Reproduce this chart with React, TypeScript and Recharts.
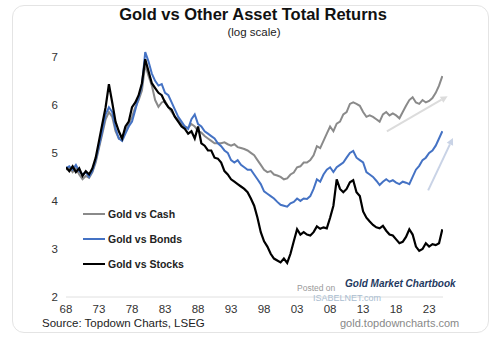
import React from 'react';
import { LineChart, Line, XAxis, YAxis, Legend, ReferenceLine } from 'recharts';

// half-yearly readings (log scale values as shown on the axis)
const years = [
  1968, 1968.5, 1969, 1969.5, 1970, 1970.5, 1971, 1971.5, 1972, 1972.5,
  1973, 1973.5, 1974, 1974.5, 1975, 1975.5, 1976, 1976.5, 1977, 1977.5,
  1978, 1978.5, 1979, 1979.5, 1980, 1980.5, 1981, 1981.5, 1982, 1982.5,
  1983, 1983.5, 1984, 1984.5, 1985, 1985.5, 1986, 1986.5, 1987, 1987.5,
  1988, 1988.5, 1989, 1989.5, 1990, 1990.5, 1991, 1991.5, 1992, 1992.5,
  1993, 1993.5, 1994, 1994.5, 1995, 1995.5, 1996, 1996.5, 1997, 1997.5,
  1998, 1998.5, 1999, 1999.5, 2000, 2000.5, 2001, 2001.5, 2002, 2002.5,
  2003, 2003.5, 2004, 2004.5, 2005, 2005.5, 2006, 2006.5, 2007, 2007.5,
  2008, 2008.5, 2009, 2009.5, 2010, 2010.5, 2011, 2011.5, 2012, 2012.5,
  2013, 2013.5, 2014, 2014.5, 2015, 2015.5, 2016, 2016.5, 2017, 2017.5,
  2018, 2018.5, 2019, 2019.5, 2020, 2020.5, 2021, 2021.5, 2022, 2022.5,
  2023, 2023.5, 2024, 2024.5, 2025,
];

const goldVsCash = [
  4.65, 4.70, 4.60, 4.68, 4.55, 4.45, 4.52, 4.48, 4.60, 4.80,
  5.10, 5.40, 5.70, 5.85, 5.75, 5.45, 5.30, 5.35, 5.45, 5.60,
  5.75, 5.95, 6.10, 6.30, 6.84, 6.60, 6.40, 6.10, 5.96, 6.05,
  6.08, 5.95, 5.85, 5.75, 5.70, 5.60, 5.55, 5.52, 5.60, 5.55,
  5.45, 5.42, 5.35, 5.30, 5.25, 5.20, 5.20, 5.20, 5.22, 5.18,
  5.15, 5.18, 5.12, 5.10, 5.08, 5.05, 5.00, 4.95, 4.85, 4.75,
  4.65, 4.60, 4.62, 4.55, 4.53, 4.50, 4.45, 4.47, 4.55, 4.59,
  4.70, 4.72, 4.80, 4.80, 4.85, 4.95, 5.14, 5.10, 5.25, 5.40,
  5.55, 5.45, 5.61, 5.65, 5.80, 5.85, 6.02, 6.05, 6.02, 5.98,
  5.85, 5.75, 5.78, 5.75, 5.70, 5.65, 5.80, 5.85, 5.78, 5.82,
  5.78, 5.72, 5.85, 5.98, 6.10, 6.16, 6.05, 6.02, 6.10, 6.05,
  6.08, 6.14, 6.25, 6.40, 6.60,
];

const goldVsBonds = [
  4.68, 4.72, 4.65, 4.75, 4.62, 4.55, 4.60, 4.50, 4.62, 4.85,
  5.15, 5.45, 5.80, 5.95, 5.85, 5.50, 5.30, 5.25, 5.40, 5.55,
  5.65, 5.90, 6.15, 6.40, 7.10, 6.90, 6.65, 6.50, 6.40, 6.43,
  6.25, 6.20, 6.05, 5.90, 5.75, 5.65, 5.55, 5.50, 5.70, 5.80,
  5.60, 5.55, 5.45, 5.40, 5.35, 5.30, 5.20, 5.14, 5.05, 5.00,
  4.85, 4.80, 4.85, 4.75, 4.70, 4.65, 4.65, 4.55, 4.45, 4.35,
  4.20, 4.15, 4.10, 4.05, 3.98, 3.92, 3.90, 3.88, 3.95, 3.98,
  4.05, 4.00, 4.05, 4.04, 4.10, 4.25, 4.45, 4.40, 4.55, 4.65,
  4.70, 4.60, 4.70, 4.75, 4.80, 4.90, 5.00, 5.04, 4.90, 4.85,
  4.80, 4.60, 4.55, 4.50, 4.42, 4.33, 4.40, 4.45, 4.40, 4.43,
  4.38, 4.35, 4.40, 4.38, 4.35, 4.50, 4.65, 4.73, 4.85, 4.90,
  5.00, 5.05, 5.15, 5.30, 5.45,
];

const goldVsStocks = [
  4.70, 4.62, 4.72, 4.60, 4.68, 4.52, 4.62, 4.55, 4.68, 4.90,
  5.25, 5.60, 5.95, 6.43, 6.05, 5.65, 5.45, 5.30, 5.55, 5.65,
  5.95, 6.05, 6.20, 6.45, 6.95, 6.70, 6.45, 6.35, 6.25, 6.20,
  6.05, 5.95, 5.90, 5.75, 5.65, 5.55, 5.50, 5.40, 5.45, 5.30,
  5.55, 5.20, 5.15, 5.05, 5.05, 4.90, 4.88, 4.80, 4.62, 4.55,
  4.45, 4.40, 4.35, 4.30, 4.25, 4.18, 4.05, 3.90, 3.65, 3.35,
  3.16, 3.05, 2.90, 2.80, 2.76, 2.72, 2.80, 2.71, 2.90, 3.16,
  3.41, 3.30, 3.35, 3.30, 3.28, 3.35, 3.47, 3.42, 3.45, 3.43,
  3.65, 3.90, 4.45, 4.25, 4.18, 4.25, 4.39, 4.43, 4.18, 4.10,
  3.78, 3.65, 3.57, 3.50, 3.45, 3.43, 3.48, 3.38, 3.30, 3.28,
  3.20, 3.12, 3.15, 3.25, 3.41, 3.30, 3.05, 2.96, 3.00, 3.12,
  3.05, 3.10, 3.08, 3.12, 3.41,
];

const seriesNames = ['Gold vs Cash', 'Gold vs Bonds', 'Gold vs Stocks'];
const xTicks = [1968, 1973, 1978, 1983, 1988, 1993, 1998, 2003, 2008, 2013, 2018, 2023];
const yTicks = [2, 3, 4, 5, 6, 7];

// trend arrows drawn on the right side (data coords)
const cashArrow = [{ x: 2016.6, y: 5.45 }, { x: 2025.8, y: 6.18 }];
const bondsArrow = [{ x: 2022.85, y: 4.22 }, { x: 2026.6, y: 5.31 }];

const data = years.map((y, i) => ({
  year: y,
  cash: goldVsCash[i],
  bonds: goldVsBonds[i],
  stocks: goldVsStocks[i],
}));

const FONT = '"Liberation Sans", Arial, sans-serif';

const arrowShape = (color: string) => (props: any) => {
  const { x1, y1, x2, y2 } = props;
  const ang = Math.atan2(y2 - y1, x2 - x1);
  const len = 7;
  const w = 3.5;
  const bx = x2 - len * Math.cos(ang);
  const by = y2 - len * Math.sin(ang);
  const px = -Math.sin(ang) * w;
  const py = Math.cos(ang) * w;
  return (
    <g>
      <line x1={x1} y1={y1} x2={bx} y2={by} stroke={color} strokeWidth={2} />
      <polygon points={`${x2},${y2} ${bx + px},${by + py} ${bx - px},${by - py}`} fill={color} />
    </g>
  );
};

function LegendBox({ payload }: any) {
  const items = [...(payload || [])].sort(
    (a: any, b: any) => seriesNames.indexOf(a.value) - seriesNames.indexOf(b.value)
  );
  return (
    <div style={{ fontFamily: FONT }}>
      {items.map((p: any) => (
        <div key={p.value} style={{ display: 'flex', alignItems: 'center', height: 25 }}>
          <div style={{ width: 22, height: 2, background: p.color, marginRight: 3 }} />
          <span style={{ fontSize: 10.5, fontWeight: 'bold', color: '#222' }}>{p.value}</span>
        </div>
      ))}
    </div>
  );
}

export default function App() {
  return (
    <div style={{ position: 'absolute', left: 0, top: 0, width: 500, height: 338, background: '#fff', fontFamily: FONT, overflow: 'hidden' }}>
      <div style={{ position: 'absolute', left: 12, top: 5, width: 475, height: 326, border: '1px solid #e4e4e4', borderRadius: 12 }} />
      <div style={{ position: 'absolute', left: 0, width: 506, top: 5, textAlign: 'center', fontSize: 16.5, fontWeight: 'bold', color: '#111' }}>
        Gold vs Other Asset Total Returns
      </div>
      <div style={{ position: 'absolute', left: 0, width: 508, top: 26, textAlign: 'center', fontSize: 11.5, color: '#222' }}>
        (log scale)
      </div>

      <LineChart width={500} height={338} data={data} margin={{ top: 52, right: 57, bottom: 21, left: 42 }}
        style={{ position: 'absolute', left: 0, top: 0 }}>
        <XAxis dataKey="year" type="number" domain={[1968, 2025.1]} ticks={xTicks} allowDataOverflow
          tickFormatter={(v: number) => String(v).slice(2)} stroke="#e0e0e0" tickLine={false} height={20}
          tick={{ fill: '#333', fontSize: 11.5, fontFamily: FONT }} interval={0} />
        <YAxis type="number" domain={[2, 7]} ticks={yTicks} axisLine={false} tickLine={false} width={24}
          tick={{ fill: '#333', fontSize: 11.5, fontFamily: FONT }} />
        <Legend layout="vertical" verticalAlign="middle" align="center" content={<LegendBox />}
          wrapperStyle={{ left: 83, top: 201, width: 120 }} />
        <ReferenceLine segment={cashArrow} ifOverflow="visible" shape={arrowShape('#dcdcdc')} />
        <ReferenceLine segment={bondsArrow} ifOverflow="visible" shape={arrowShape('#c9d3e6')} />
        <Line name="Gold vs Cash" dataKey="cash" stroke="#8a8a8a" strokeWidth={2} dot={false} isAnimationActive={false} />
        <Line name="Gold vs Bonds" dataKey="bonds" stroke="#4472c4" strokeWidth={2} dot={false} isAnimationActive={false} />
        <Line name="Gold vs Stocks" dataKey="stocks" stroke="#000" strokeWidth={2.2} dot={false} isAnimationActive={false} />
      </LineChart>

      <div style={{ position: 'absolute', left: 345, top: 278, fontSize: 10, fontWeight: 'bold', fontStyle: 'italic', color: '#1f3a5f' }}>
        Gold Market Chartbook
      </div>
      <div style={{ position: 'absolute', left: 297, top: 283, fontSize: 8.5, color: '#999' }}>Posted on</div>
      <div style={{ position: 'absolute', left: 313, top: 293, fontSize: 9, color: '#a9bdd0' }}>ISABELNET.com</div>
      <div style={{ position: 'absolute', left: 42, top: 317, fontSize: 11.5, color: '#222' }}>
        Source: Topdown Charts, LSEG
      </div>
      <div style={{ position: 'absolute', left: 340, top: 317, fontSize: 11, color: '#888' }}>
        gold.topdowncharts.com
      </div>
    </div>
  );
}
